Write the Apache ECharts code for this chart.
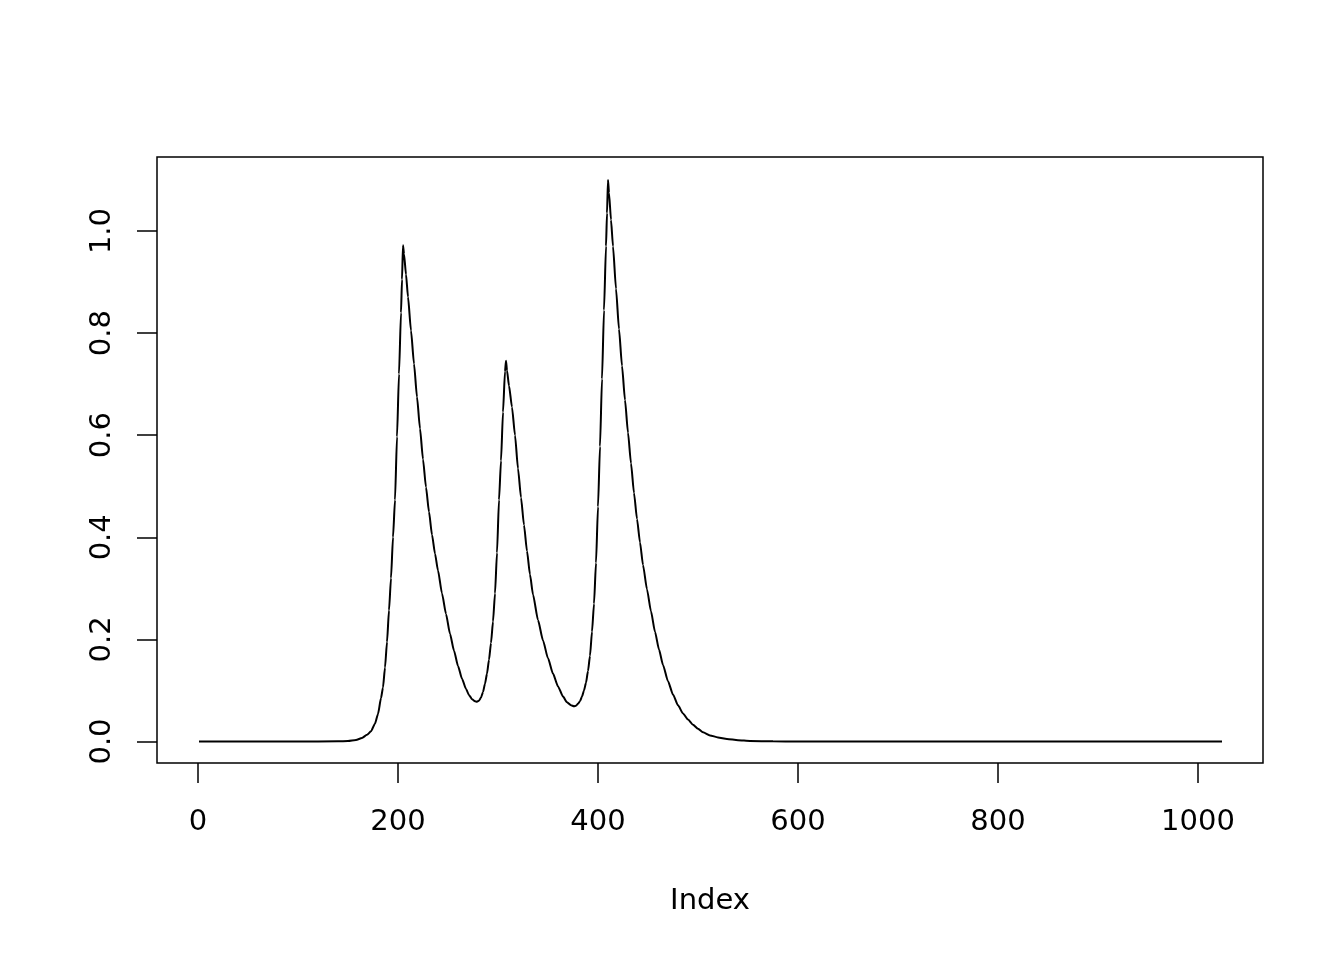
<!DOCTYPE html>
<html>
<head>
<meta charset="utf-8">
<script src="https://cdn.jsdelivr.net/npm/echarts@6/dist/echarts.min.js"></script>
<style>html,body{margin:0;padding:0;background:#fff}#c{width:1344px;height:960px}</style>
</head>
<body>
<div id="c"></div>
<script>
// Values (index, signal)
const indexValues = [1, 100, 140, 150, 158, 164, 169, 173, 177, 180, 183, 185, 187, 189, 191, 193, 195, 197, 199, 201, 203, 204, 205,
  206, 208, 210, 213, 216, 219, 222, 225, 228, 231, 234, 237, 240, 244, 248, 252, 256, 260, 264, 268, 271, 274, 277, 279,
  281, 283, 285, 287, 289, 291, 293, 295, 297, 299, 301, 303, 305, 307, 308,
  309, 311, 314, 317, 320, 323, 326, 329, 332, 335, 340, 345, 350, 355, 360, 365, 369, 373, 376,
  378, 380, 382, 384, 386, 388, 390, 392, 394, 396, 398, 400, 402, 404, 406, 408, 409, 410,
  411, 413, 415, 418, 421, 424, 427, 430, 433, 436, 439, 442, 445, 449, 453, 457, 461, 465, 470, 475, 480, 485,
  490, 495, 500, 505, 512, 520, 529, 540, 552, 575, 600, 1024];
const signalValues = [0, 0, 0.0005, 0.001, 0.003, 0.007, 0.013, 0.02, 0.035, 0.054, 0.085, 0.106, 0.145, 0.195, 0.257, 0.32, 0.40, 0.473, 0.597, 0.72, 0.84, 0.905, 0.972,
  0.955, 0.915, 0.871, 0.805, 0.74, 0.675, 0.613, 0.553, 0.498, 0.45, 0.405, 0.368, 0.335, 0.29, 0.25, 0.211, 0.178, 0.148, 0.123, 0.103, 0.091, 0.083, 0.079, 0.078,
  0.08, 0.086, 0.097, 0.113, 0.133, 0.16, 0.193, 0.235, 0.29, 0.37, 0.473, 0.55, 0.645, 0.725, 0.746,
  0.727, 0.697, 0.655, 0.60, 0.535, 0.478, 0.424, 0.373, 0.327, 0.288, 0.238, 0.198, 0.163, 0.133, 0.108, 0.088, 0.077, 0.071, 0.069,
  0.07, 0.074, 0.079, 0.088, 0.1, 0.115, 0.138, 0.168, 0.215, 0.27, 0.35, 0.46, 0.578, 0.71, 0.845, 0.97, 1.035, 1.1,
  1.075, 1.022, 0.97, 0.887, 0.808, 0.736, 0.669, 0.605, 0.545, 0.487, 0.436, 0.39, 0.346, 0.298, 0.255, 0.215, 0.18, 0.15, 0.118, 0.092, 0.071, 0.055,
  0.043, 0.033, 0.025, 0.018, 0.012, 0.008, 0.005, 0.0025, 0.001, 0.0003, 0, 0];
const xTickValues = [0, 200, 400, 600, 800, 1000];
const yTickValues = [0, 0.2, 0.4, 0.6, 0.8, 1.0];
const xAxisTitle = 'Index';

const seriesData = indexValues.map((x, k) => [x, signalValues[k]]);
const font = 'DejaVu Sans';
const chart = echarts.init(document.getElementById('c'), null, {renderer: 'canvas'});
chart.setOption({
  animation: false,
  backgroundColor: '#ffffff',
  grid: {left: 157, right: 81, top: 157, bottom: 197, show: true, borderColor: '#000', borderWidth: 1.5, backgroundColor: 'transparent'},
  xAxis: {
    type: 'value', min: -41, max: 1065,
    name: xAxisTitle, nameLocation: 'middle', nameGap: 124,
    nameTextStyle: {fontFamily: font, fontSize: 29, color: '#000'},
    axisLine: {show: false, onZero: false},
    splitLine: {show: false},
    axisTick: {show: true, inside: false, length: 20, customValues: xTickValues, lineStyle: {color: '#000', width: 1.5}},
    axisLabel: {show: true, customValues: xTickValues, margin: 45, fontFamily: font, fontSize: 29, color: '#000',
      formatter: v => String(v)}
  },
  yAxis: {
    type: 'value', min: -0.0421, max: 1.145,
    axisLine: {show: false, onZero: false},
    splitLine: {show: false},
    axisTick: {show: true, inside: false, length: 20, customValues: yTickValues, lineStyle: {color: '#000', width: 1.5}},
    axisLabel: {show: true, customValues: yTickValues, rotate: 90, margin: 40, fontFamily: font, fontSize: 29, color: '#000',
      formatter: v => v.toFixed(1)}
  },
  series: [{
    type: 'line', data: seriesData, showSymbol: false, smooth: 0.2, smoothMonotone: 'x',
    lineStyle: {color: '#000', width: 2}
  }]
});
</script>
</body>
</html>
